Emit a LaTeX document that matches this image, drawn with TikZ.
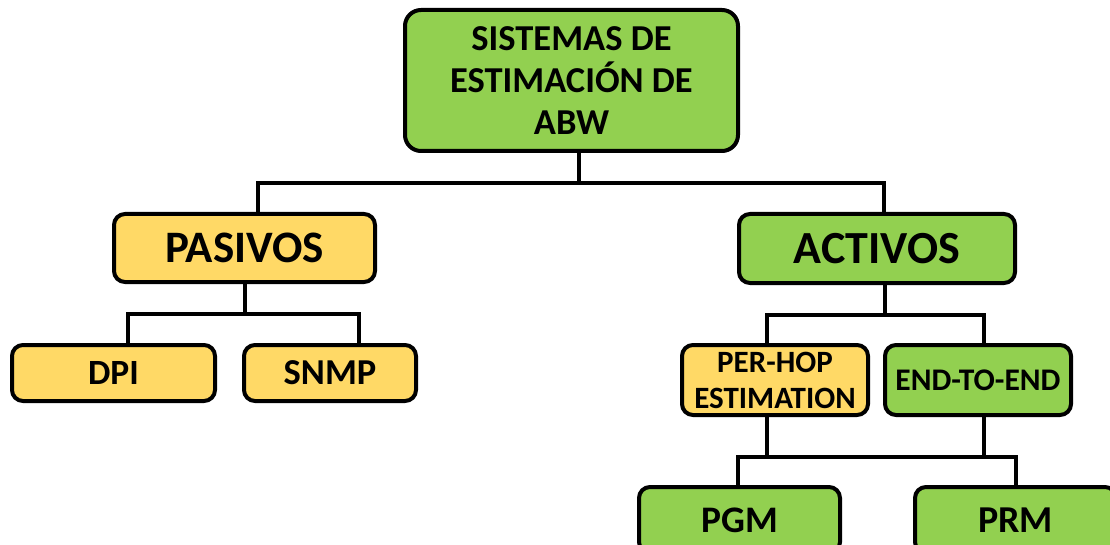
\documentclass[tikz,border=0pt]{standalone}
\usepackage{fontspec}
\setmainfont{Carlito}
\definecolor{boxgreen}{HTML}{92D050}
\definecolor{boxyellow}{HTML}{FFD966}
\begin{document}
\begin{tikzpicture}[x=1pt,y=-1pt,
  box/.style={draw=black, line width=4pt, rounded corners=11pt, inner sep=0pt,
    align=center, text=black, font=\bfseries},
  gbox/.style={box, fill=boxgreen},
  ybox/.style={box, fill=boxyellow},
  conn/.style={draw=black, line width=4pt}]
\path[use as bounding box] (0,0) rectangle (1110,545);
\clip (0,0) rectangle (1110,545);
% nodes
\node[gbox, rounded corners=16pt, minimum width=333pt, minimum height=141pt,
  font=\bfseries\fontsize{36.5}{42}\selectfont] (main) at (571.5,80.5)
  {SISTEMAS DE\\ESTIMACIÓN DE\\ABW};
\node[ybox, minimum width=261pt, minimum height=68pt,
  font=\bfseries\fontsize{45}{48}\selectfont] (pas) at (244.5,248) {PASIVOS};
\node[gbox, minimum width=276pt, minimum height=69pt,
  font=\bfseries\fontsize{46}{48}\selectfont] (act) at (877,248.5) {ACTIVOS};
\node[ybox, minimum width=203pt, minimum height=56pt,
  font=\bfseries\fontsize{35.5}{40}\selectfont] (dpi) at (113.5,373) {DPI};
\node[ybox, minimum width=172pt, minimum height=56pt,
  font=\bfseries\fontsize{36.5}{40}\selectfont] (snmp) at (330,373) {SNMP};
\node[ybox, minimum width=186pt, minimum height=70pt,
  font=\bfseries\fontsize{31}{36}\selectfont] (phe) at (775,380) {PER-HOP\\ESTIMATION};
\node[gbox, minimum width=186pt, minimum height=70pt,
  font=\bfseries\fontsize{31.5}{36}\selectfont] (ete) at (978,380) {END-TO-END};
\node[gbox, minimum width=201pt, minimum height=66pt,
  font=\bfseries\fontsize{37.5}{40}\selectfont] (pgm) at (739.5,520) {PGM};
\node[gbox, minimum width=201pt, minimum height=66pt,
  font=\bfseries\fontsize{38}{40}\selectfont] (prm) at (1015.5,520) {PRM};
% junction coordinates
\coordinate (j1) at (579,183);
\coordinate (j1l) at (258,183);
\coordinate (j1r) at (884,183);
\coordinate (j2) at (245,314);
\coordinate (j2l) at (128,314);
\coordinate (j2r) at (359,314);
\coordinate (j3) at (885,315);
\coordinate (j3l) at (767,315);
\coordinate (j3r) at (984,315);
\coordinate (j4l) at (767,457);
\coordinate (j4r) at (984,457);
\coordinate (j4a) at (738,457);
\coordinate (j4b) at (1016,457);
% connectors
\draw[conn] (main.south -| j1) -- (j1);
\draw[conn] (pas.north -| j1l) -- (j1l) -- (j1r) -- (act.north -| j1r);
\draw[conn] (pas.south -| j2) -- (j2);
\draw[conn] (dpi.north -| j2l) -- (j2l) -- (j2r) -- (snmp.north -| j2r);
\draw[conn] (act.south -| j3) -- (j3);
\draw[conn] (phe.north -| j3l) -- (j3l) -- (j3r) -- (ete.north -| j3r);
\draw[conn] (phe.south -| j4l) -- (j4l);
\draw[conn] (ete.south -| j4r) -- (j4r);
\draw[conn] (pgm.north -| j4a) -- (j4a) -- (j4b) -- (prm.north -| j4b);
\end{tikzpicture}
\end{document}
